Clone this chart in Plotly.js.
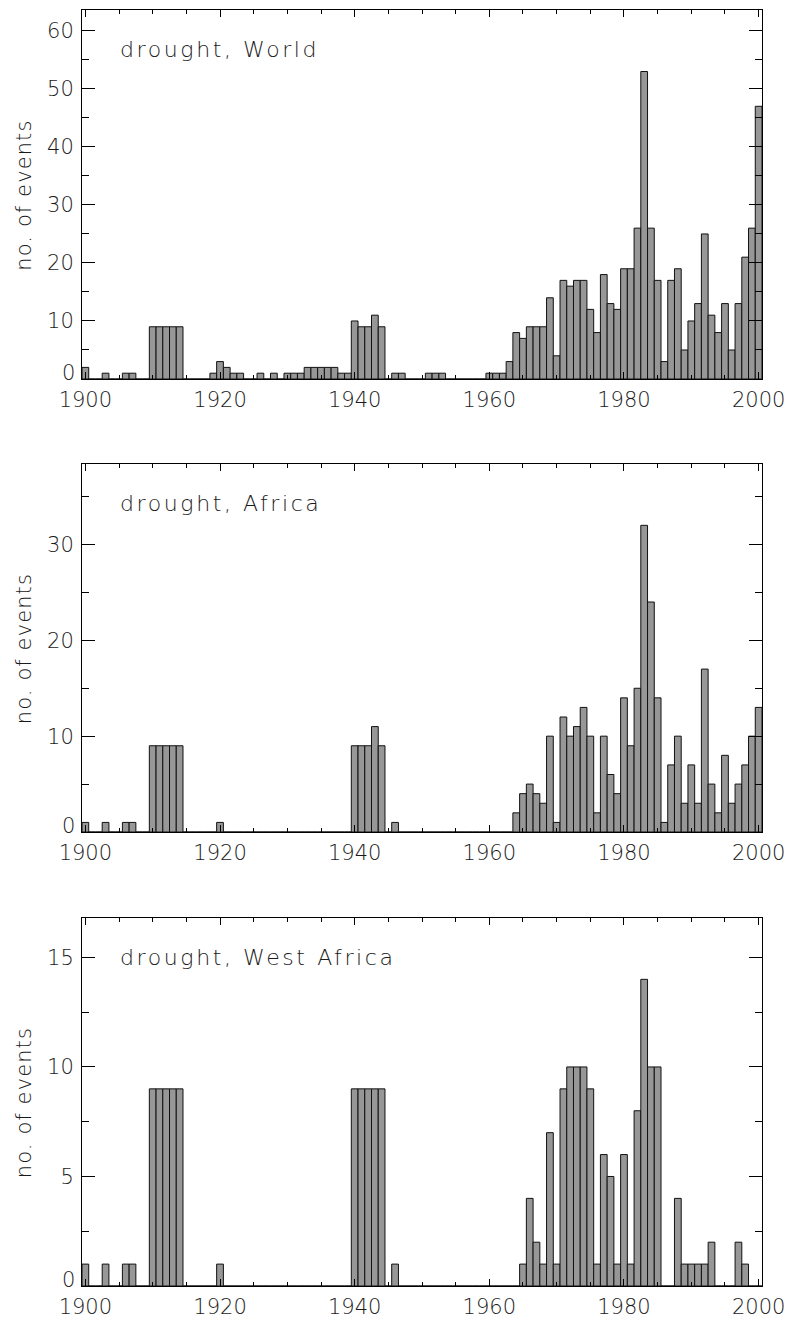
<!DOCTYPE html>
<html>
<head>
<meta charset="utf-8">
<script src="https://cdn.plot.ly/plotly-3.0.1.min.js"></script>
<style>
html,body{margin:0;padding:0;background:#fff;}
#chart{width:787px;height:1322px;}
.annotation.ptitle text{letter-spacing:2.6px;}
.annotation.ytitle text{letter-spacing:1.1px;}
</style>
</head>
<body>
<div id="chart"></div>
<script>
const years = [
 1900,1901,1902,1903,1904,1905,1906,1907,1908,1909,
 1910,1911,1912,1913,1914,1915,1916,1917,1918,1919,
 1920,1921,1922,1923,1924,1925,1926,1927,1928,1929,
 1930,1931,1932,1933,1934,1935,1936,1937,1938,1939,
 1940,1941,1942,1943,1944,1945,1946,1947,1948,1949,
 1950,1951,1952,1953,1954,1955,1956,1957,1958,1959,
 1960,1961,1962,1963,1964,1965,1966,1967,1968,1969,
 1970,1971,1972,1973,1974,1975,1976,1977,1978,1979,
 1980,1981,1982,1983,1984,1985,1986,1987,1988,1989,
 1990,1991,1992,1993,1994,1995,1996,1997,1998,1999,
 2000];

const worldEvents = [
 2,0,0,1,0,0,1,1,0,0,
 9,9,9,9,9,0,0,0,0,1,
 3,2,1,1,0,0,1,0,1,0,
 1,1,1,2,2,2,2,2,1,1,
 10,9,9,11,9,0,1,1,0,0,
 0,1,1,1,0,0,0,0,0,0,
 1,1,1,3,8,7,9,9,9,14,
 4,17,16,17,17,12,8,18,13,12,
 19,19,26,53,26,17,3,17,19,5,
 10,13,25,11,8,13,5,13,21,26,
 47];

const africaEvents = [
 1,0,0,1,0,0,1,1,0,0,
 9,9,9,9,9,0,0,0,0,0,
 1,0,0,0,0,0,0,0,0,0,
 0,0,0,0,0,0,0,0,0,0,
 9,9,9,11,9,0,1,0,0,0,
 0,0,0,0,0,0,0,0,0,0,
 0,0,0,0,2,4,5,4,3,10,
 1,12,10,11,13,10,2,10,6,4,
 14,9,15,32,24,14,1,7,10,3,
 7,3,17,5,2,8,3,5,7,10,
 13];

const westAfricaEvents = [
 1,0,0,1,0,0,1,1,0,0,
 9,9,9,9,9,0,0,0,0,0,
 1,0,0,0,0,0,0,0,0,0,
 0,0,0,0,0,0,0,0,0,0,
 9,9,9,9,9,0,1,0,0,0,
 0,0,0,0,0,0,0,0,0,0,
 0,0,0,0,0,1,4,2,1,7,
 1,9,10,10,10,9,1,6,5,1,
 6,1,8,14,10,10,0,0,4,1,
 1,1,1,2,0,0,0,2,1,0,
 0];

const panelTitles = ["drought, World", "drought, Africa", "drought, West Africa"];
const xTickVals = [1900,1920,1940,1960,1980,2000];
const xTickText = ["1900","1920","1940","1960","1980","2000"];
const yTickVals = [[10,20,30,40,50,60],[10,20,30],[5,10,15]];
const yTickText = [["10","20","30","40","50","60"],["10","20","30"],["5","10","15"]];
const yMinor = [5,5,2.5];
const yRanges = [[0,63.6],[0,38.4],[0,16.8]];
const yAxisTitle = "no. of events";

const FONT = "DejaVu Sans, sans-serif";
const TXT = "#1a1a1a";
const FW = 200;
const W = 787, H = 1322;
const plotL = 82, plotR = 762;
const panels = [[10,379],[464,832],[918,1286]];
const series = [worldEvents, africaEvents, westAfricaEvents];

const data = series.map((s,i)=>({
  type:'bar', x: years, y: s,
  xaxis: i===0?'x':'x'+(i+1), yaxis: i===0?'y':'y'+(i+1),
  width: 1,
  marker:{color:'#979797', line:{color:'#111', width:1}},
  hoverinfo:'skip', showlegend:false
}));

const layout = {
  width: W, height: H,
  margin:{l:0,r:0,t:0,b:0},
  paper_bgcolor:'#fff', plot_bgcolor:'#fff',
  bargap:0, showlegend:false,
  font:{family:FONT, color:TXT, size:21, weight:FW},
  annotations:[]
};

const pTitleIdx = [], yTitleIdx = [];
panels.forEach((p,i)=>{
  const xn = i===0?'xaxis':'xaxis'+(i+1);
  const yn = i===0?'yaxis':'yaxis'+(i+1);
  const yid = i===0?'y':'y'+(i+1);
  const xid = i===0?'x':'x'+(i+1);
  layout[xn] = {
    domain:[plotL/W, plotR/W], anchor: yid,
    range:[1899.5, 2000.5], tickmode:'array', tickvals:xTickVals, ticktext:xTickText,
    ticks:'inside', ticklen:7, tickwidth:1, tickcolor:'#000',
    minor:{dtick:5, tick0:1900, ticks:'inside', ticklen:4, tickwidth:1, tickcolor:'#000', showgrid:false},
    showline:true, linecolor:'#000', linewidth:1, mirror:'allticks',
    showgrid:false, zeroline:false, fixedrange:true,
    tickfont:{family:FONT, size:21, color:TXT, weight:FW}, ticklabelstandoff:2
  };
  layout[yn] = {
    domain:[1-p[1]/H, 1-p[0]/H], anchor: xid,
    range: yRanges[i], tickmode:'array', tickvals:yTickVals[i], ticktext:yTickText[i],
    ticks:'inside', ticklen:13, tickwidth:1, tickcolor:'#000',
    minor:{dtick:yMinor[i], tick0:0, ticks:'inside', ticklen:7, tickwidth:1, tickcolor:'#000', showgrid:false},
    showline:true, linecolor:'#000', linewidth:1, mirror:'allticks',
    showgrid:false, zeroline:false, fixedrange:true,
    tickfont:{family:FONT, size:21, color:TXT, weight:FW}, ticklabelstandoff:3
  };
  layout.annotations.push({
    xref:'paper', x: plotL/W, xanchor:'right', xshift:-5,
    yref: yid, y:0, yanchor:'middle', yshift:6,
    text:'0', showarrow:false, font:{family:FONT, size:21, color:TXT, weight:FW}
  });
  pTitleIdx.push(layout.annotations.length);
  layout.annotations.push({
    xref: xid+' domain', x: (118-plotL)/(plotR-plotL), xanchor:'left', align:'left',
    yref: yid+' domain', y: 0.894, yanchor:'middle',
    text: panelTitles[i], showarrow:false, font:{family:FONT, size:22, color:TXT, weight:FW}
  });
  yTitleIdx.push(layout.annotations.length);
  layout.annotations.push({
    xref:'paper', x: 24/W, xanchor:'center',
    yref: yid+' domain', y:0.5, yanchor:'middle', textangle:-90, yshift:-1,
    text: yAxisTitle, showarrow:false, font:{family:FONT, size:21, color:TXT, weight:FW}
  });
});

Plotly.newPlot('chart', data, layout, {staticPlot:true, displayModeBar:false}).then(gd=>{
  const anns = gd.querySelectorAll('.annotation');
  pTitleIdx.forEach(k=>{ if(anns[k]) anns[k].classList.add('ptitle'); });
  yTitleIdx.forEach(k=>{ if(anns[k]) anns[k].classList.add('ytitle'); });
});
</script>
</body>
</html>
